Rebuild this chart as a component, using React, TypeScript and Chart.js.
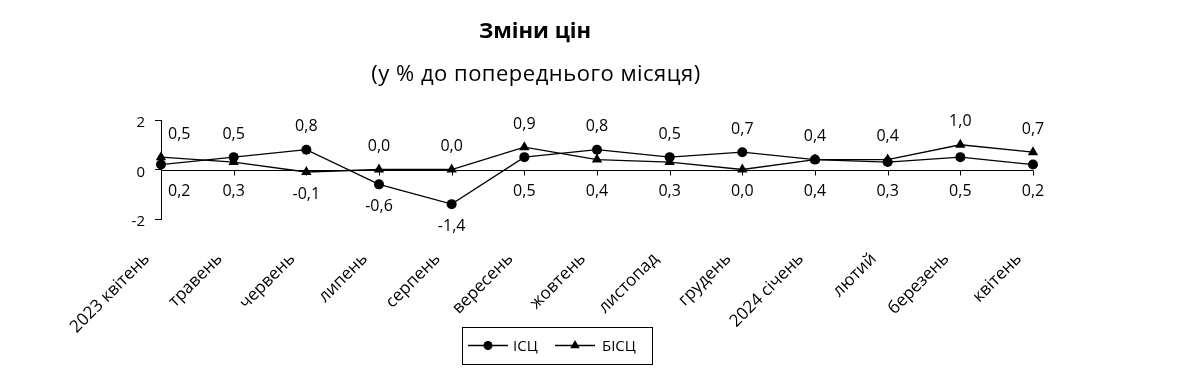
import React, { useEffect, useRef } from "react";
import { Chart, registerables } from "chart.js";

Chart.register(...registerables);

const months = [
  "2023 квітень",
  "травень",
  "червень",
  "липень",
  "серпень",
  "вересень",
  "жовтень",
  "листопад",
  "грудень",
  "2024 січень",
  "лютий",
  "березень",
  "квітень",
];
const cpi = [0.2, 0.5, 0.8, -0.6, -1.4, 0.5, 0.8, 0.5, 0.7, 0.4, 0.3, 0.5, 0.2];
const coreCpi = [0.5, 0.3, -0.1, 0.0, 0.0, 0.9, 0.4, 0.3, 0.0, 0.4, 0.4, 1.0, 0.7];
const seriesNames = ["ІСЦ", "БІСЦ"];
const yTicks = [-2, 0, 2];
const titleText = "Зміни цін";
const subtitleText = "(у % до попереднього місяця)";

const FONT = "'Open Sans', sans-serif";
const fmt = (v: number) => v.toFixed(1).replace(".", ",");

function drawTriangle(ctx: CanvasRenderingContext2D, cx: number, cy: number, r: number) {
  const h = r * 1.5;
  const side = r * Math.sqrt(3);
  ctx.beginPath();
  ctx.moveTo(cx, cy - h * (2 / 3));
  ctx.lineTo(cx + side / 2, cy + h / 3);
  ctx.lineTo(cx - side / 2, cy + h / 3);
  ctx.closePath();
  ctx.fill();
}

const customPlugin = {
  id: "customDraw",
  beforeDatasetsDraw(chart: any) {
    const { ctx, chartArea, scales } = chart;
    const x = scales.x;
    const y = scales.y;
    const y0 = Math.round(y.getPixelForValue(0)) + 0.5;
    ctx.save();
    ctx.strokeStyle = "#000";
    ctx.lineWidth = 1;
    ctx.beginPath();
    ctx.moveTo(chartArea.left, y0);
    ctx.lineTo(chartArea.right, y0);
    for (let i = 0; i < months.length; i++) {
      const px = Math.round(x.getPixelForValue(i)) + 0.5;
      ctx.moveTo(px, y0);
      ctx.lineTo(px, y0 + 5);
    }
    ctx.stroke();
    ctx.restore();
  },
  afterDatasetsDraw(chart: any) {
    const { ctx, chartArea, scales } = chart;
    const zeroY = scales.y.getPixelForValue(0);
    const m0 = chart.getDatasetMeta(0);
    const m1 = chart.getDatasetMeta(1);
    ctx.save();
    ctx.font = `16px ${FONT}`;
    ctx.fillStyle = "#000";
    ctx.textAlign = "center";
    ctx.textBaseline = "middle";
    for (let i = 0; i < months.length; i++) {
      const a = cpi[i];
      const b = coreCpi[i];
      const upper = a >= b ? 0 : 1;
      const items = [
        { v: a, p: m0.data[i], up: upper === 0 },
        { v: b, p: m1.data[i], up: upper === 1 },
      ];
      for (const it of items) {
        const txt = fmt(it.v);
        const w = ctx.measureText(txt).width;
        let px = it.p.x;
        px = Math.max(px, chartArea.left + w / 2 + 7);
        const py = it.up ? it.p.y - 23 : Math.max(it.p.y, zeroY) + 22;
        ctx.fillText(txt, px, py);
      }
    }
    ctx.restore();
  },
  afterDraw(chart: any) {
    const { ctx } = chart;
    ctx.save();
    ctx.fillStyle = "#000";
    ctx.textAlign = "center";
    ctx.textBaseline = "middle";
    ctx.font = `bold 22px ${FONT}`;
    ctx.fillText(titleText, 535, 32);
    ctx.font = `22px ${FONT}`;
    try {
      (ctx as any).letterSpacing = "0.5px";
    } catch (e) {}
    ctx.fillText(subtitleText, 536, 75);
    try {
      (ctx as any).letterSpacing = "0px";
    } catch (e) {}

    // legend
    ctx.strokeStyle = "#000";
    ctx.lineWidth = 1;
    ctx.strokeRect(462.5, 327.5, 190, 37);
    const ly = 345.5;
    ctx.lineWidth = 1.3;
    ctx.beginPath();
    ctx.moveTo(468, ly);
    ctx.lineTo(508, ly);
    ctx.moveTo(555, ly);
    ctx.lineTo(595, ly);
    ctx.stroke();
    ctx.beginPath();
    ctx.arc(488, ly, 4.5, 0, Math.PI * 2);
    ctx.fill();
    drawTriangle(ctx, 575, ly, 5.5);
    ctx.font = `15px ${FONT}`;
    ctx.textAlign = "left";
    ctx.fillText(seriesNames[0], 513, ly + 1);
    ctx.fillText(seriesNames[1], 602, ly + 1);
    ctx.restore();
  },
};

export default function App() {
  const canvasRef = useRef<HTMLCanvasElement | null>(null);

  useEffect(() => {
    const canvas = canvasRef.current;
    if (!canvas) return;
    const chart = new Chart(canvas, {
      type: "line",
      data: {
        labels: months,
        datasets: [
          {
            label: seriesNames[0],
            data: cpi,
            borderColor: "#000",
            backgroundColor: "#000",
            borderWidth: 1.3,
            pointStyle: "circle",
            pointRadius: 5,
            pointBackgroundColor: "#000",
            pointBorderColor: "#000",
            pointBorderWidth: 0,
            tension: 0,
            clip: false,
          },
          {
            label: seriesNames[1],
            data: coreCpi,
            borderColor: "#000",
            backgroundColor: "#000",
            borderWidth: 1.3,
            pointStyle: "triangle",
            pointRadius: 6,
            pointBackgroundColor: "#000",
            pointBorderColor: "#000",
            pointBorderWidth: 0,
            tension: 0,
            clip: false,
          },
        ],
      },
      options: {
        animation: false,
        responsive: false,
        maintainAspectRatio: false,
        events: [],
        layout: { padding: { top: 120, left: 0, right: 148, bottom: 0 } },
        plugins: {
          legend: { display: false },
          title: { display: false },
          tooltip: { enabled: false },
        },
        scales: {
          x: {
            type: "category",
            offset: false,
            grid: { display: false },
            border: { display: false },
            ticks: {
              autoSkip: false,
              minRotation: 45,
              maxRotation: 45,
              padding: 22,
              labelOffset: -14,
              color: "#000",
              font: { family: FONT, size: 17 },
            },
            afterFit: (s: any) => {
              s.height = 163;
            },
          },
          y: {
            min: -2,
            max: 2,
            grid: {
              drawOnChartArea: false,
              drawTicks: true,
              tickLength: 6,
              color: "#000",
              lineWidth: 1,
            },
            border: { display: true, color: "#000", width: 1 },
            ticks: {
              padding: 10,
              labelOffset: 3,
              color: "#000",
              font: { family: FONT, size: 15 },
              callback: (v: any) => String(v),
            },
            afterBuildTicks: (s: any) => {
              s.ticks = yTicks.map((v) => ({ value: v }));
            },
            afterFit: (s: any) => {
              s.width = 161;
            },
          },
        },
      },
      plugins: [customPlugin],
    });
    return () => chart.destroy();
  }, []);

  return (
    <div style={{ position: "absolute", left: 0, top: 0, width: 1181, height: 382, background: "#fff" }}>
      <canvas ref={canvasRef} width={1181} height={382} style={{ display: "block" }} />
    </div>
  );
}
